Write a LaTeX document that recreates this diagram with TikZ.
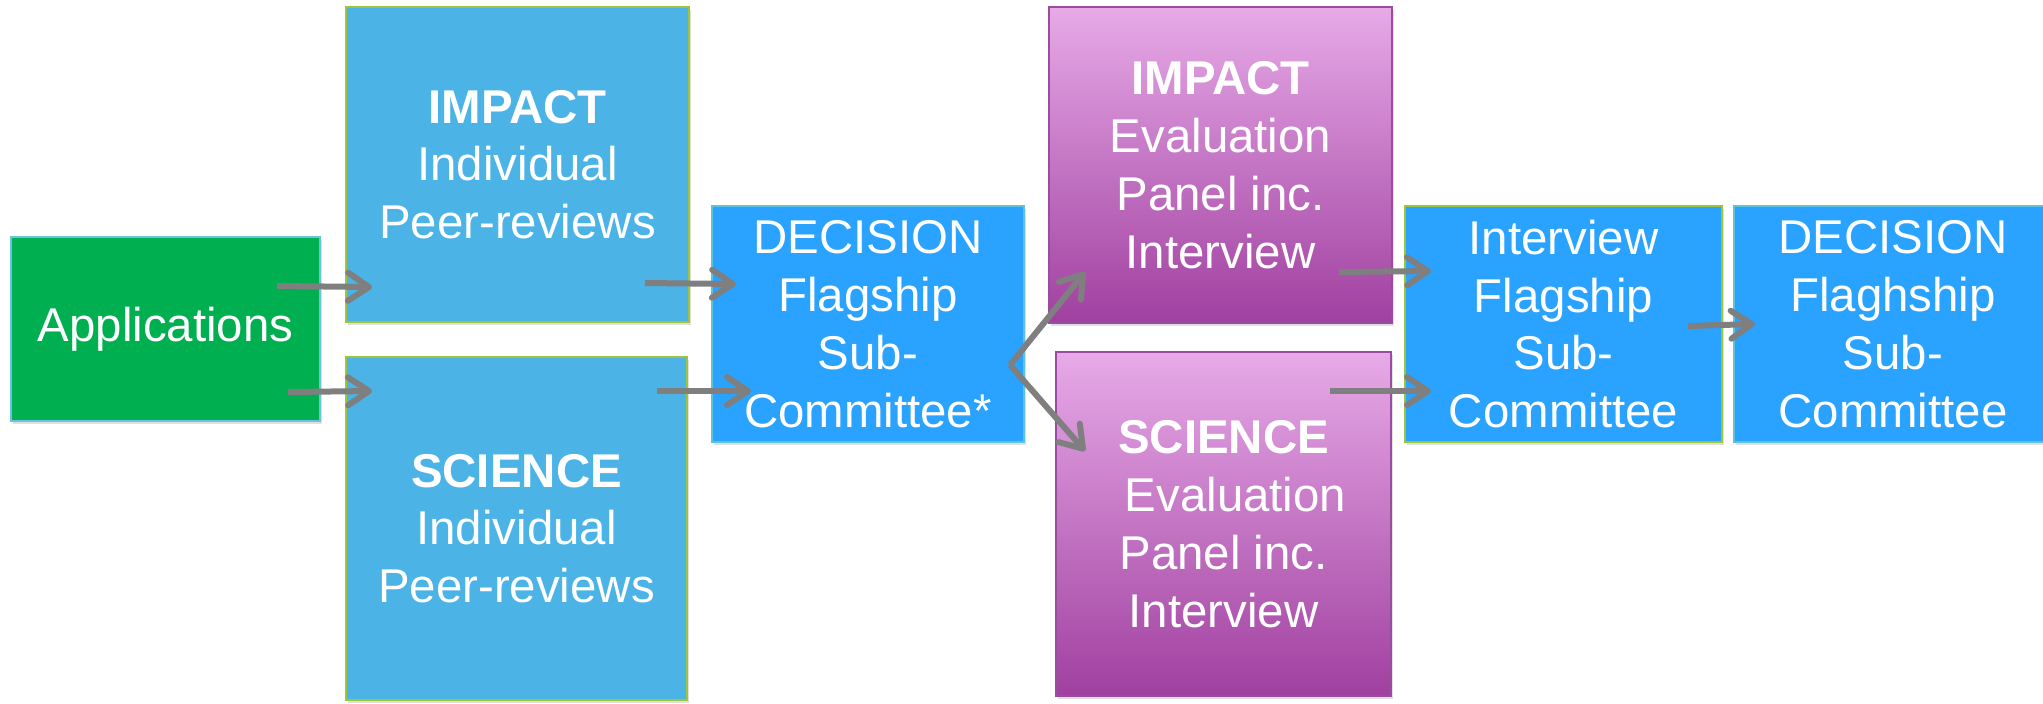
\documentclass[tikz,border=0pt]{standalone}
\usepackage{fontspec}
\setmainfont{Liberation Sans}
\usetikzlibrary{arrows.meta,calc,shadows}
\definecolor{appgreen}{HTML}{00B050}
\definecolor{appborder}{HTML}{6CC3DC}
\definecolor{lblue}{HTML}{4CB3E6}
\definecolor{bblue}{HTML}{29A3FF}
\definecolor{lime}{HTML}{9BC53D}
\definecolor{cyanb}{HTML}{5EC2DA}
\definecolor{ptop}{HTML}{E7AAE7}
\definecolor{pbot}{HTML}{A040A0}
\definecolor{pborder}{HTML}{9A4C9E}
\definecolor{arrgray}{HTML}{7F7F7F}
\tikzset{
  box/.style={rectangle, inner sep=0pt, align=center, text=white, line width=1pt,
    font=\fontsize{23.7}{28.9}\selectfont,
    drop shadow={shadow xshift=1pt, shadow yshift=-1.5pt, opacity=0.25}},
  appbox/.style={box, fill=appgreen, draw=appborder},
  revbox/.style={box, fill=lblue, draw=lime},
  decbox/.style={box, fill=bblue, draw=cyanb},
  intbox/.style={box, fill=bblue, draw=lime},
  panbox/.style={box, top color=ptop, bottom color=pbot, draw=pborder},
  arr/.style={draw=arrgray, line width=3pt, line join=round,
    -{Straight Barb[length=10.5pt,width=14pt,line cap=round,line join=round]}}
}
\begin{document}
\begin{tikzpicture}[x=0.5pt,y=-0.5pt]
\useasboundingbox (0,0) rectangle (2043,703);
\node[appbox, minimum width=154.5pt, minimum height=92pt] (app) at (165.5,329) {Applications};
\node[revbox, minimum width=171.5pt, minimum height=157.5pt] (imp) at (517.5,164.5) {\textbf{IMPACT}\\Individual\\Peer-reviews};
\node[revbox, minimum width=170.5pt, minimum height=171.5pt] (sci) at (516.5,528.5) {\textbf{SCIENCE}\\Individual\\Peer-reviews};
\node[decbox, minimum width=156pt, minimum height=118pt] (dec) at (868,324) {DECISION\\Flagship\\Sub-\\Committee*};
\node[panbox, minimum width=171.5pt, minimum height=158pt] (pimp) at (1220.5,165) {\textbf{IMPACT}\\Evaluation\\Panel inc.\\Interview};
\node[panbox, minimum width=167.5pt, minimum height=172pt] (psci) at (1223.5,524) {\textbf{SCIENCE}\\\hspace*{12pt}Evaluation\\Panel inc.\\Interview};
\node[intbox, minimum width=158.5pt, minimum height=118pt] (intv) at (1563.5,324) {Interview\\Flagship\\Sub-\\Committee};
\node[decbox, minimum width=159pt, minimum height=118pt] (fin) at (1893,324) {DECISION\\Flaghship\\Sub-\\Committee};

\draw[arr] ($(app.east)+(-44,-43)$) -- ($(imp.south west)+(27,-36)$);
\draw[arr] ($(app.east)+(-33,63)$) -- ($(sci.north west)+(27,35)$);
\draw[arr] ($(imp.south east)+(-45,-40)$) -- ($(dec.west)+(25,-40)$);
\draw[arr] ($(sci.north east)+(-31,35)$) -- ($(dec.west)+(40,67)$);
\coordinate (fork) at ($(dec.east)+(-15,41)$);
\draw[arr] (fork) -- ($(pimp.south west)+(37,-52)$);
\draw[arr] (fork) -- ($(psci.north west)+(30,100)$);
\draw[arr] ($(pimp.south east)+(-54,-52)$) -- ($(intv.west)+(27,-53)$);
\draw[arr] ($(psci.north east)+(-62,40)$) -- ($(intv.west)+(27,67)$);
\draw[arr] ($(intv.east)+(-35,2)$) -- ($(fin.west)+(22,0)$);
\end{tikzpicture}
\end{document}
